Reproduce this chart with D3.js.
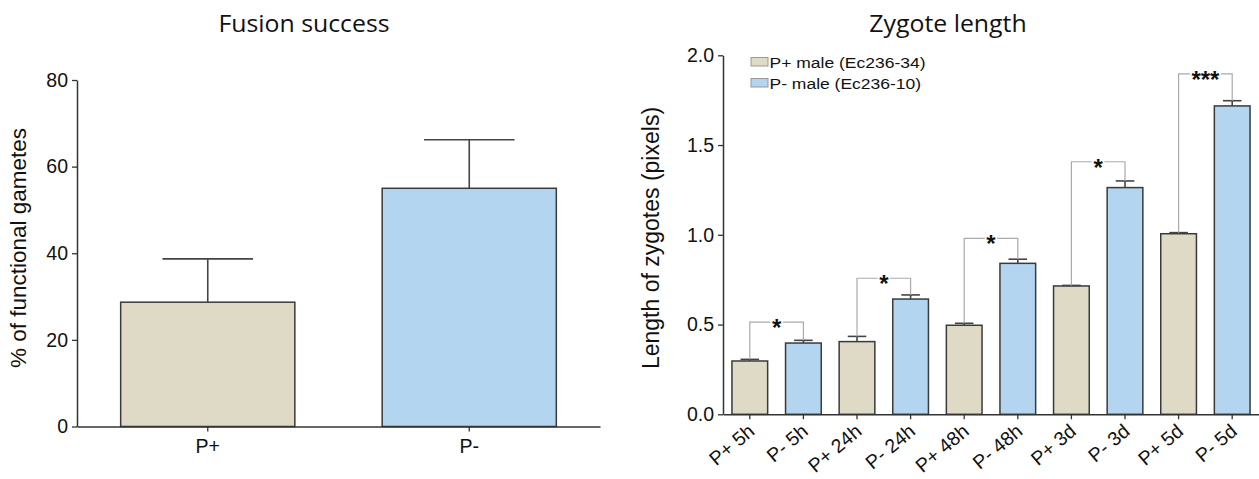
<!DOCTYPE html>
<html><head><meta charset="utf-8">
<script src="https://cdn.jsdelivr.net/npm/d3@7"></script>
<style>body{margin:0;background:#fff} svg{display:block}</style>
</head><body><svg id="c" width="1259" height="479"></svg>
<script>
// ---- Data: Fusion success ----
const fusionCategories = ["P+", "P-"];
const fusionValues = [28.7, 55.0];
const fusionErrors = [10.0, 11.2];
const fusionTicks = [0, 20, 40, 60, 80];

// ---- Data: Zygote length ----
const zygoteCategories = ["P+ 5h","P- 5h","P+ 24h","P- 24h","P+ 48h","P- 48h","P+ 3d","P- 3d","P+ 5d","P- 5d"];
const zygoteSeries = ["P+ male (Ec236-34)", "P- male (Ec236-10)"];
const zygoteValues = [0.297, 0.397, 0.405, 0.642, 0.496, 0.841, 0.715, 1.263, 1.006, 1.718];
const zygoteErrors = [0.009, 0.015, 0.029, 0.023, 0.011, 0.023, 0.003, 0.037, 0.006, 0.029];
const zygoteTicks = [0, 0.5, 1.0, 1.5, 2.0];
const sigPairs = [[0,1],[2,3],[4,5],[6,7],[8,9]];
const sigLevels = [0.513, 0.758, 0.98, 1.407, 1.896];
const sigLabels = ["*", "*", "*", "*", "***"];

const colors = ["#dfdac6", "#b4d5f0"];
const FONT = "'Liberation Sans', Arial, sans-serif";
const svg = d3.select("#c");

function styleAxis(g, size) {
  g.select(".domain").attr("stroke", "#333").attr("stroke-width", 1.5);
  g.selectAll(".tick line").attr("stroke", "#333").attr("stroke-width", 1.3);
  g.selectAll(".tick text").attr("fill", "#111").style("font-family", FONT).style("font-size", size + "px");
}
function stretchedText(parent, x, y, txt, opts) {
  const g = parent.append("g").attr("transform", `translate(${x},${y}) scale(${opts.sx || 1},1)`);
  return g.append("text").attr("x", 0).attr("y", 0).attr("text-anchor", opts.anchor || "start")
    .style("font-family", opts.family || FONT).style("font-size", opts.size + "px")
    .attr("fill", opts.fill || "#111").text(txt);
}

function barChart(cfg) {
  const x = d3.scaleBand().domain(cfg.cats).range(cfg.xr).paddingInner(0.334).paddingOuter(0.167);
  const y = d3.scaleLinear().domain(cfg.yd).range(cfg.yr);
  const bw = x.bandwidth();
  svg.append("g").selectAll("rect").data(cfg.values).join("rect")
    .attr("x", (d, i) => x(cfg.cats[i])).attr("y", d => y(d))
    .attr("width", bw).attr("height", d => y(0) - y(d))
    .attr("fill", (d, i) => colors[i % 2]).attr("stroke", "#3a3a3a").attr("stroke-width", 1.5);
  const eg = svg.append("g").attr("stroke", "#444").attr("stroke-width", 1.6);
  cfg.values.forEach((v, i) => {
    const cx = x(cfg.cats[i]) + bw / 2;
    eg.append("line").attr("x1", cx).attr("x2", cx).attr("y1", y(v)).attr("y2", y(v + cfg.errors[i]));
    eg.append("line").attr("x1", cx - bw * 0.26).attr("x2", cx + bw * 0.26)
      .attr("y1", y(v + cfg.errors[i])).attr("y2", y(v + cfg.errors[i]));
  });
  const ya = svg.append("g").attr("transform", `translate(${cfg.xr[0]},0)`)
    .call(d3.axisLeft(y).tickValues(cfg.ticks).tickFormat(cfg.fmt).tickSize(5).tickPadding(4).tickSizeOuter(0));
  styleAxis(ya, 19.5);
  const xa = svg.append("g").attr("transform", `translate(0,${y(0)})`)
    .call(d3.axisBottom(x).tickSize(5).tickPadding(8).tickSizeOuter(0));
  styleAxis(xa, 19.5);
  return {x, y, xa, bw};
}

// ---- Left chart ----
const L = barChart({cats: fusionCategories, values: fusionValues, errors: fusionErrors,
  xr: [77, 600], yd: [0, 80], yr: [426.5, 80], ticks: fusionTicks, fmt: d3.format("d")});
stretchedText(svg, 304, 31.5, "Fusion success", {size: 23, anchor: "middle", sx: 1.08, family: "'Open Sans', sans-serif"});
svg.append("text").attr("transform", "translate(26,248) rotate(-90)").attr("text-anchor", "middle")
  .style("font-family", FONT).style("font-size", "22.5px").attr("fill", "#111").text("% of functional gametes");

// ---- Right chart ----
const R = barChart({cats: zygoteCategories, values: zygoteValues, errors: zygoteErrors,
  xr: [723, 1259], yd: [0, 2], yr: [414.3, 55.3], ticks: zygoteTicks, fmt: d3.format(".1f")});
R.xa.selectAll(".tick text").attr("text-anchor", "end").attr("x", 0).attr("y", 0).attr("dy", "0")
  .style("font-size", "19.5px").attr("transform", "translate(6,19) rotate(-40)");
stretchedText(svg, 948, 32, "Zygote length", {size: 23, anchor: "middle", sx: 1.08, family: "'Open Sans', sans-serif"});
svg.append("text").attr("transform", "translate(659,238) rotate(-90)").attr("text-anchor", "middle")
  .style("font-family", FONT).style("font-size", "23px").attr("fill", "#111").text("Length of zygotes (pixels)");

// significance brackets
const sg = svg.append("g");
sigPairs.forEach((p, k) => {
  const xl = R.x(zygoteCategories[p[0]]) + R.bw / 2;
  const xr = R.x(zygoteCategories[p[1]]) + R.bw / 2;
  const yb = R.y(sigLevels[k]);
  const yl = R.y(zygoteValues[p[0]] + zygoteErrors[p[0]]);
  const yr2 = R.y(zygoteValues[p[1]] + zygoteErrors[p[1]]);
  const xm = (xl + xr) / 2;
  const t = sg.append("text").attr("x", xm).attr("y", yb + 14).attr("text-anchor", "middle")
    .style("font-family", FONT).style("font-size", "24px").style("font-weight", "bold")
    .attr("fill", "#111").text(sigLabels[k]);
  const half = t.node().getComputedTextLength() / 2 + 1.5;
  sg.append("path").attr("fill", "none").attr("stroke", "#aaa").attr("stroke-width", 1.2)
    .attr("d", `M${xl},${yl}V${yb}H${xm - half}M${xm + half},${yb}H${xr}V${yr2}`);
});

// legend
const lg = svg.append("g");
zygoteSeries.forEach((s, i) => {
  const yy = 57.5 + i * 21;
  lg.append("rect").attr("x", 751).attr("y", yy).attr("width", 17).attr("height", 8.5)
    .attr("fill", colors[i]).attr("stroke", "#999").attr("stroke-width", 1);
  stretchedText(lg, 769.5, yy + 10, s, {size: 15.5, sx: 1.13});
});
</script></body></html>
